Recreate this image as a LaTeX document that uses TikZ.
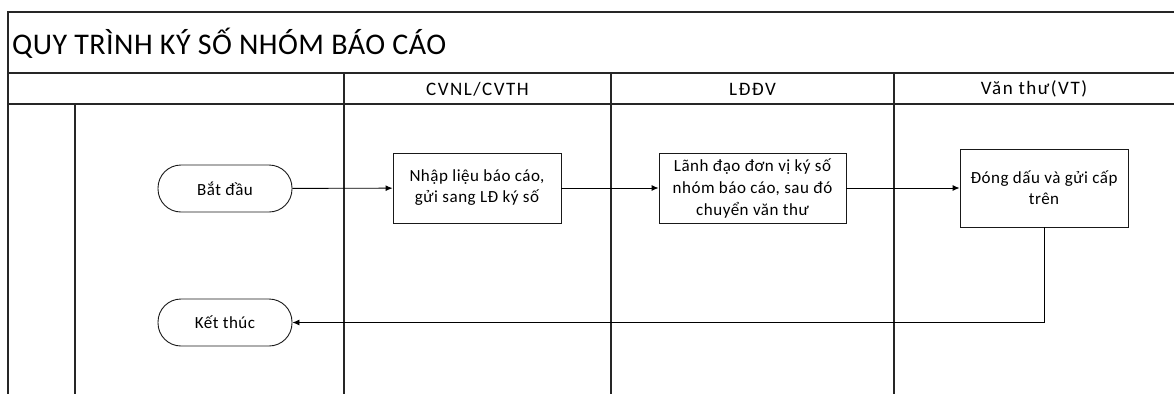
\documentclass[tikz,border=0pt]{standalone}
\usepackage{fontspec}
\setmainfont{Carlito}
\usetikzlibrary{arrows.meta}
\tikzset{
  frame/.style={line width=1.2pt, draw=black!85},
  procbox/.style={draw=black!90, line width=0.9pt, align=center, font=\fontsize{17}{21}\selectfont\addfontfeatures{LetterSpace=3}, inner sep=2pt},
  term/.style={draw=black!90, line width=0.9pt, rounded corners=23pt, minimum width=134pt, minimum height=47pt, font=\fontsize{17}{20}\selectfont\addfontfeatures{LetterSpace=3}, inner sep=0pt},
  flow/.style={line width=0.9pt, -{Latex[length=7pt,width=6pt]}},
  hdr/.style={font=\fontsize{19}{22}\selectfont\addfontfeatures{LetterSpace=8}, inner sep=0pt}
}
\begin{document}
\begin{tikzpicture}[x=1pt,y=-1pt]
\useasboundingbox (0,0) rectangle (1174,394);
% frame lines
\draw[frame] (1174,12) -- (8,12) -- (8,394);
\draw[frame] (8,73) -- (1174,73);
\draw[frame] (8,104) -- (1174,104);
\draw[frame] (75,104) -- (75,394);
\draw[frame] (344,73) -- (344,394);
\draw[frame] (611,73) -- (611,394);
\draw[frame] (894,73) -- (894,394);
% title and headers
\node[anchor=west, font=\fontsize{30}{34}\selectfont\addfontfeatures{LetterSpace=1.5}, inner sep=0pt] (title) at (12,43.5) {QUY TRÌNH KÝ SỐ NHÓM BÁO CÁO};
\node[hdr] (h1) at (477.5,89) {CVNL/CVTH};
\node[hdr] (h2) at (752.5,89) {LĐĐV};
\node[hdr] (h3) at (1034,89) {Văn thư(VT)};
% nodes
\node[term] (start) at (225,188.5) {Bắt đầu};
\node[term] (end) at (225,322.5) {Kết thúc};
\node[procbox, minimum width=168pt, minimum height=70pt] (b1) at (477,188) {Nhập liệu báo cáo,\\gửi sang LĐ ký số};
\node[procbox, minimum width=187pt, minimum height=70pt, font=\fontsize{17}{22}\selectfont\addfontfeatures{LetterSpace=3}] (b2) at (752.5,188) {Lãnh đạo đơn vị ký số\\nhóm báo cáo, sau đó\\chuyển văn thư};
\node[procbox, minimum width=168pt, minimum height=78pt] (b3) at (1044,188) {Đóng dấu và gửi cấp\\trên};
\coordinate (turn) at (1044,322.5);
% connectors
\draw[flow] (start) -- (b1);
\draw[flow] (b1) -- (b2);
\draw[flow] (b2) -- (b3);
\draw[flow] (b3.south) -- (turn) -- (end.east);
\end{tikzpicture}
\end{document}
